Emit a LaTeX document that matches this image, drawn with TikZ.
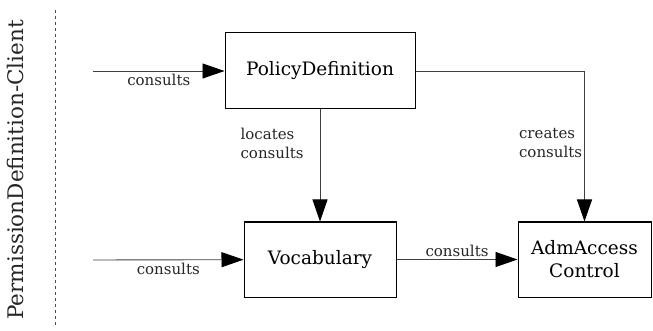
\documentclass[tikz,border=0pt]{standalone}
\usepackage{fontspec}
\setmainfont{DejaVu Serif}
\usepackage{tikz}
\usetikzlibrary{arrows.meta}

\tikzset{
    box/.style={draw=black, line width=1pt, fill=white, inner sep=0pt, font=\fontsize{18.5}{23}\selectfont},
    flow/.style={draw=black!75, line width=0.9pt, -{Triangle[length=22pt,width=15pt,color=black]}},
    lbl/.style={font=\fontsize{15}{19}\selectfont, text=black!85, inner sep=2pt}
}

\begin{document}
\begin{tikzpicture}[x=1pt, y=-1pt]
        % Frame of the picture
        \useasboundingbox (0,0) rectangle (653,331);

        % Swimlane label and separator
        \node[rotate=90, font=\fontsize{21.5}{23}\selectfont, text=black!85] (client) at (15,170) {PermissionDefinition-Client};
        \coordinate (septop) at (55,10);
        \coordinate (sepbot) at (55,325);
        \draw[dashed, black!70, line width=0.7pt] (septop) -- (sepbot);

        % Components
        \node[box, minimum width=190pt, minimum height=76pt] (policy) at (320,71) {PolicyDefinition};
        \node[box, minimum width=152pt, minimum height=75pt] (vocab) at (320,259.5) {Vocabulary};
        \node[box, minimum width=133pt, minimum height=75pt, align=center] (adm) at (584.5,259.5) {AdmAccess\\Control};

        % Free ends of the incoming calls
        \coordinate (in1) at (93,71);
        \coordinate (in2) at (93,260);

        % Calls from the client
        \draw[flow] (in1) -- (policy) node[midway, below, lbl, yshift=-1pt] {consults};
        \draw[flow] (in2) -- (vocab) node[midway, below, lbl, yshift=-1pt] {consults};

        % Calls between components
        \draw[flow] (policy) -- (vocab) node[pos=0.3, left, lbl, align=left, xshift=-14pt] {locates\\consults};
        \draw[flow] (policy.east) -| (adm.north) node[pos=0.74, left, lbl, align=left] {creates\\consults};
        \draw[flow] (vocab) -- (adm) node[midway, above, lbl] {consults};
\end{tikzpicture}
\end{document}
